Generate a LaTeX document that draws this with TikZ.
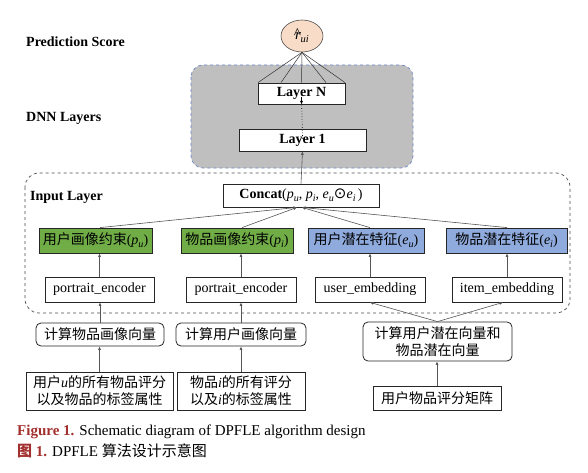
\documentclass[tikz,border=0pt]{standalone}
\usepackage{fontspec}
\setmainfont{Liberation Serif}
\newfontfamily\cjk{Noto Sans CJK SC}
\newfontfamily\djv{DejaVu Sans}
\usetikzlibrary{arrows.meta,shapes.geometric}
\definecolor{gbox}{HTML}{BFBFBF}
\definecolor{gbord}{HTML}{6A86C8}
\definecolor{grn}{HTML}{70AD47}
\definecolor{blu}{HTML}{8FAADC}
\definecolor{peach}{HTML}{F8DCC8}
\definecolor{capred}{HTML}{A3302E}
\definecolor{arr}{HTML}{555555}
\newcommand{\vsb}[2]{\textit{#1}\raisebox{-0.4ex}{\scalebox{0.72}{\textit{#2}}}}
\tikzset{
  bx/.style={draw=black!85,line width=0.8pt,fill=white,inner sep=0pt,align=center,
    font=\fontsize{14}{16}\selectfont},
  gbx/.style={bx,fill=grn},
  bbx/.style={bx,fill=blu},
  rbx/.style={bx,rounded corners=5pt},
  lab/.style={anchor=west,font=\fontsize{14}{16}\selectfont\bfseries,inner sep=0pt},
  ar/.style={draw=arr,line width=0.6pt,-{Latex[length=3.5pt,width=3pt]}},
}
\begin{document}
\begin{tikzpicture}[x=1pt,y=-1pt]
\useasboundingbox (0,0) rectangle (588,473);
% background boxes
\draw[gbord,dashed,line width=0.7pt,fill=gbox,rounded corners=12pt] (191,65) rectangle (413,168);
\draw[black!70,dashed,line width=0.7pt,rounded corners=14pt] (25,173) rectangle (570,313);
% labels
\node[lab] (lps) at (26,42) {Prediction Score};
\node[lab] (ldnn) at (26,118) {DNN Layers};
\node[lab] (lin) at (30,197) {Input Layer};
% top
\node[draw=black!70,line width=0.6pt,fill=peach,ellipse,minimum width=42pt,minimum height=32pt,inner sep=0pt,font=\fontsize{15}{16}\selectfont] (ell) at (302,36) {\textit{r}\llap{\raisebox{0.1ex}{\textit{\^{}}}\kern0.3pt}\kern-0.5pt\raisebox{-0.45ex}{\scalebox{0.7}{\textit{ui}}}};
\node[bx,minimum width=87pt,minimum height=21pt,font=\fontsize{14}{16}\selectfont\bfseries] (ln) at (301.5,93.5) {Layer N};
\node[bx,minimum width=127pt,minimum height=22pt,font=\fontsize{14}{16}\selectfont\bfseries] (l1) at (302.5,140) {Layer 1};
\node[bx,minimum width=156pt,minimum height=23pt] (cc) at (301,195.5) {\textbf{Concat}(\vsb{p}{u}, \vsb{p}{i}, \vsb{e}{u}{\djv\fontsize{15}{16}\selectfont ⊙}\vsb{e}{i}\,)};
% feature boxes
\node[gbx,minimum width=113pt,minimum height=25pt] (g1) at (95.5,240.5) {{\cjk 用户画像约束}(\vsb{p}{u})};
\node[gbx,minimum width=112pt,minimum height=25pt] (g2) at (237,240.5) {{\cjk 物品画像约束}(\vsb{p}{i})};
\node[bbx,minimum width=116pt,minimum height=25pt] (b1) at (366,240.5) {{\cjk 用户潜在特征}(\vsb{e}{u})};
\node[bbx,minimum width=121pt,minimum height=25pt] (b2) at (506.5,240.5) {{\cjk 物品潜在特征}(\vsb{e}{i})};
% encoders
\node[bx,minimum width=109pt,minimum height=25pt] (e1) at (99.5,289.5) {portrait\_encoder};
\node[bx,minimum width=110pt,minimum height=25pt] (e2) at (241,289.5) {portrait\_encoder};
\node[bx,minimum width=110pt,minimum height=25pt] (e3) at (370,289.5) {user\_embedding};
\node[bx,minimum width=110pt,minimum height=25pt] (e4) at (507,289.5) {item\_embedding};
% calc boxes
\node[rbx,minimum width=128pt,minimum height=23pt] (c1) at (100,334.5) {\cjk 计算物品画像向量};
\node[rbx,minimum width=130pt,minimum height=23pt] (c2) at (241,334.5) {\cjk 计算用户画像向量};
\node[rbx,minimum width=149pt,minimum height=39pt,font=\fontsize{14}{17}\selectfont] (c3) at (437.5,341.5) {\cjk 计算用户潜在向量和\\\cjk 物品潜在向量};
% sources
\node[bx,minimum width=147pt,minimum height=38pt,font=\fontsize{14}{17}\selectfont] (s1) at (99.5,391) {{\cjk 用户}\textit{u}{\cjk 的所有物品评分}\\{\cjk 以及物品的标签属性}};
\node[bx,minimum width=128pt,minimum height=38pt,font=\fontsize{14}{17}\selectfont] (s2) at (241,391) {{\cjk 物品}\textit{i}{\cjk 的所有评分}\\{\cjk 以及}\textit{i}{\cjk 的标签属性}};
\node[bx,minimum width=128pt,minimum height=24pt] (s3) at (437,398) {\cjk 用户物品评分矩阵};
% connectors top
\foreach \dx in {-43.5,-20.5,0,24.5,43.5}
  \draw[black!80,line width=0.5pt] (ell.south) -- ([xshift=\dx pt]ln.north);
\draw[black,line width=0.7pt,dotted] ([yshift=-10pt]l1.north) -- ([yshift=10pt]ln.south);
\draw[ar,draw=black] ([yshift=7pt]ln.south) -- (ln.south);
\draw[ar] (cc.north) -- (l1.south);
\draw[ar] ([xshift=4.5pt]g1.north) -- ([xshift=-4pt]cc.south);
\draw[ar] ([xshift=5pt]g2.north) -- ([xshift=-4pt]cc.south);
\draw[ar] ([xshift=4pt]b1.north) -- ([xshift=1pt]cc.south);
\draw[ar] ([xshift=0.5pt]b2.north) -- ([xshift=1pt]cc.south);
\draw[ar] (e1.north) -- (e1.north |- g1.south);
\draw[ar] (e2.north) -- (e2.north |- g2.south);
\draw[ar] (e3.north) -- (e3.north |- b1.south);
\draw[ar] (e4.north) -- (e4.north |- b2.south);
\draw[ar] (c1.north) -- (c1.north |- e1.south);
\draw[ar] (c2.north) -- (c2.north |- e2.south);
\draw[ar] (c3.north) -- (e3.south);
\draw[ar] (c3.north) -- ([xshift=-4pt]e4.south);
\draw[ar] (s1.north) -- (s1.north |- c1.south);
\draw[ar] (s2.north) -- (s2.north |- c2.south);
\draw[ar] (s3.north) -- (s3.north |- c3.south);
% caption
\node[anchor=west,inner sep=0pt,font=\fontsize{15}{17}\selectfont] (cap1) at (17,432) {\textcolor{capred}{\textbf{Figure 1.}} Schematic diagram of DPFLE algorithm design};
\node[anchor=west,inner sep=0pt,font=\fontsize{15}{17}\selectfont] (cap2) at (17,451) {\textcolor{capred}{\textbf{\cjk 图} \textbf{1.}} DPFLE {\cjk 算法设计示意图}};
\end{tikzpicture}
\end{document}
